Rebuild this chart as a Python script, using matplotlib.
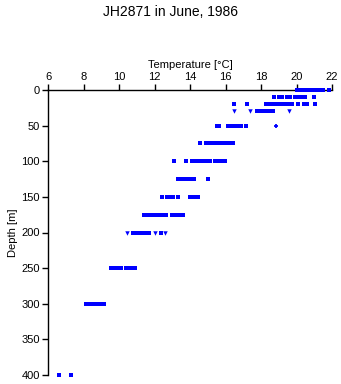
import matplotlib
matplotlib.use("Agg")
import matplotlib.pyplot as plt

plt.rcParams['font.family'] = ['Liberation Sans', 'DejaVu Sans']

# depth levels [m] and temperatures [degC] read at each level
depths = [0, 10, 20, 30, 50, 75, 100, 125, 150, 175, 200, 250, 300, 400]
temps = [
    [20.0, 20.2, 20.4, 20.6, 20.8, 21.0, 21.2, 21.4, 21.5, 21.85],
    [18.75, 19.0, 19.2, 19.45, 19.65, 19.9, 20.15, 20.3, 20.5, 21.0],
    [16.5, 17.2, 18.3, 18.5, 18.7, 18.9, 19.1, 19.3, 19.5, 19.75, 20.1, 20.45, 20.6, 21.05],
    [17.75, 17.95, 18.15, 18.35, 18.55, 18.7],
    [15.5, 15.65, 16.15, 16.35, 16.55, 16.75, 16.9, 17.15],
    [14.55, 14.9, 15.1, 15.3, 15.5, 15.7, 15.85, 16.1, 16.3, 16.45],
    [13.1, 13.75, 14.1, 14.3, 14.5, 14.7, 14.9, 15.1, 15.4, 15.6, 15.8, 15.95],
    [13.35, 13.55, 13.75, 13.9, 14.1, 14.25, 15.0],
    [12.45, 12.7, 12.85, 13.05, 13.3, 14.0, 14.2, 14.45],
    [11.4, 11.6, 11.8, 12.0, 12.2, 12.45, 12.65, 13.0, 13.2, 13.4, 13.6],
    [10.8, 11.0, 11.15, 11.3, 11.5, 11.7, 12.35],
    [9.55, 9.75, 9.95, 10.1, 10.4, 10.55, 10.7, 10.9],
    [8.15, 8.35, 8.55, 8.75, 8.95, 9.15],
    [6.6, 7.3],
]
# a few points drawn with triangle / plus markers
tri_depth = [30, 30, 30, 200, 200, 200]
tri_temp = [16.5, 17.4, 19.55, 10.45, 12.0, 12.6]
plus_depth = [50]
plus_temp = [18.85]

fig = plt.figure(figsize=(3.41, 3.84), dpi=100)
ax = fig.add_axes([48/341, 9/384, 284/341, 285/384])

for d, tl in zip(depths, temps):
    ax.plot(tl, [d]*len(tl), 's', color='blue', markersize=2.4,
            markeredgewidth=0, clip_on=False, zorder=3)
ax.plot(tri_temp, tri_depth, 'v', color='blue', markersize=3.2, markeredgewidth=0)
ax.plot(plus_temp, plus_depth, '+', color='blue', markersize=3.5, markeredgewidth=1.3)

ax.set_xlim(6, 22)
ax.set_ylim(400, 0)
ax.set_xticks(range(6, 23, 2))
ax.set_yticks(range(0, 401, 50))
ax.xaxis.tick_top()
ax.xaxis.set_label_position('top')
ax.set_xlabel('Temperature [°C]', fontsize=8, labelpad=3)
ax.set_ylabel('Depth [m]', fontsize=8, labelpad=2)
ax.tick_params(labelsize=8, length=4, width=1, pad=2)
ax.spines['right'].set_visible(False)
ax.spines['bottom'].set_visible(False)
ax.spines['top'].set_linewidth(1)
ax.spines['left'].set_linewidth(1)

fig.text(0.5, 1 - 12/384, 'JH2871 in June, 1986', ha='center', va='center', fontsize=10)

fig.savefig('out.png', dpi=100)
